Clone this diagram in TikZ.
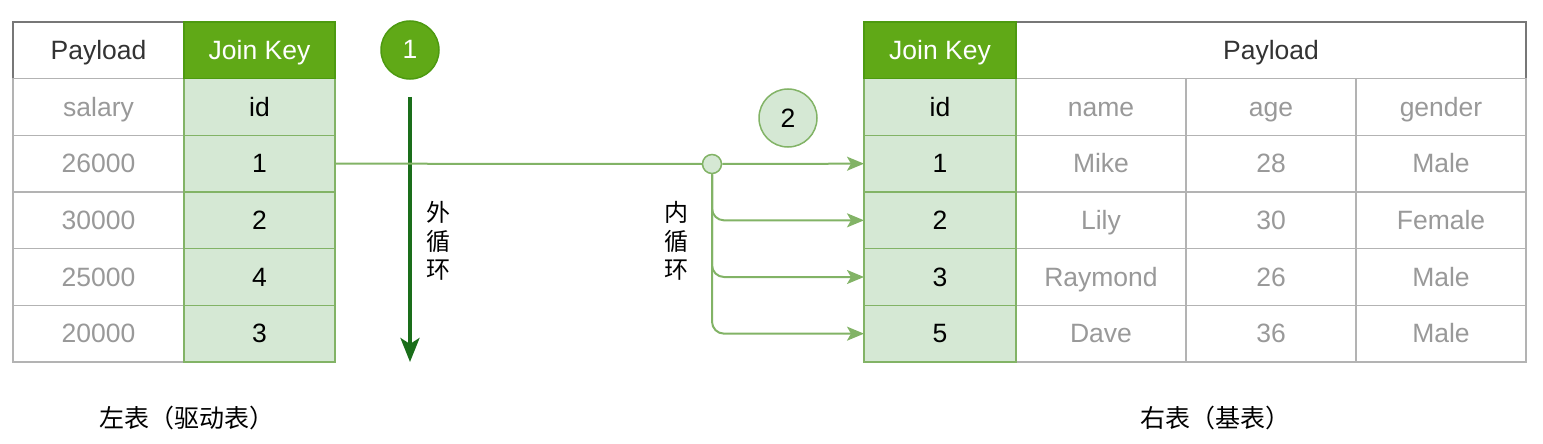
\documentclass[tikz,border=0pt]{standalone}
\usepackage{fontspec}
\setmainfont{Liberation Sans}
\newfontfamily\cjk{Noto Sans CJK SC}
\usetikzlibrary{arrows.meta}
\definecolor{hdrgreen}{HTML}{60A917}
\definecolor{hdrgreenb}{HTML}{4D9A10}
\definecolor{lgreen}{HTML}{D5E8D4}
\definecolor{lgreenb}{HTML}{82B366}
\definecolor{dgreen}{HTML}{1A6E1A}
\definecolor{grayb}{HTML}{B3B3B3}
\definecolor{hdrb}{HTML}{777777}
\definecolor{gtext}{HTML}{999999}
\definecolor{dtext}{HTML}{333333}
\begin{document}
\begin{tikzpicture}[x=1pt,y=-1pt,
  cell/.style={draw=grayb, line width=1.5pt, fill=white, anchor=north west, inner sep=0pt, outer sep=0pt, minimum height=56.67pt, text=gtext, text height=21pt, text depth=3pt, font=\fontsize{26.5}{30}\selectfont},
  keycell/.style={cell, draw=lgreenb, fill=lgreen, text=black},
  phdr/.style={cell, draw=hdrb, text=dtext},
  khdr/.style={cell, draw=hdrgreenb, fill=hdrgreen, text=white},
  link/.style={draw=lgreenb, line width=2pt, -{Stealth[length=17pt,width=14pt,inset=4pt]}},
  cjkl/.style={font=\cjk\fontsize{24}{28.5}\selectfont, align=center, text=black},
  numc/.style={circle, line width=1.5pt, minimum size=58pt, inner sep=0pt, text height=21pt, text depth=3pt, font=\fontsize{26.5}{30}\selectfont}
]
\useasboundingbox (0,0) rectangle (1543,444);
% ---------- left table ----------
\node[phdr, minimum width=171pt] (lp0) at (13,22) {Payload};
\node[cell, minimum width=171pt] (lp1) at (13,78.67) {salary};
\node[cell, minimum width=171pt] (lp2) at (13,135.33) {26000};
\node[cell, minimum width=171pt] (lp3) at (13,192) {30000};
\node[cell, minimum width=171pt] (lp4) at (13,248.67) {25000};
\node[cell, minimum width=171pt] (lp5) at (13,305.33) {20000};
\node[keycell, minimum width=151pt] (lk1) at (184,78.67) {id};
\node[keycell, minimum width=151pt] (lk2) at (184,135.33) {1};
\node[keycell, minimum width=151pt] (lk3) at (184,192) {2};
\node[keycell, minimum width=151pt] (lk4) at (184,248.67) {4};
\node[keycell, minimum width=151pt] (lk5) at (184,305.33) {3};
\node[khdr, minimum width=151pt] (lk0) at (184,22) {Join Key};
% ---------- right table ----------
\node[phdr, minimum width=510pt] (rp0) at (1016,22) {Payload};
\node[cell, minimum width=170pt] (rn1) at (1016,78.67) {name};
\node[cell, minimum width=170pt] (ra1) at (1186,78.67) {age};
\node[cell, minimum width=170pt] (rg1) at (1356,78.67) {gender};
\node[cell, minimum width=170pt] (rn2) at (1016,135.33) {Mike};
\node[cell, minimum width=170pt] (ra2) at (1186,135.33) {28};
\node[cell, minimum width=170pt] (rg2) at (1356,135.33) {Male};
\node[cell, minimum width=170pt] (rn3) at (1016,192) {Lily};
\node[cell, minimum width=170pt] (ra3) at (1186,192) {30};
\node[cell, minimum width=170pt] (rg3) at (1356,192) {Female};
\node[cell, minimum width=170pt] (rn4) at (1016,248.67) {Raymond};
\node[cell, minimum width=170pt] (ra4) at (1186,248.67) {26};
\node[cell, minimum width=170pt] (rg4) at (1356,248.67) {Male};
\node[cell, minimum width=170pt] (rn5) at (1016,305.33) {Dave};
\node[cell, minimum width=170pt] (ra5) at (1186,305.33) {36};
\node[cell, minimum width=170pt] (rg5) at (1356,305.33) {Male};
\node[keycell, minimum width=152pt] (rk1) at (864,78.67) {id};
\node[keycell, minimum width=152pt] (rk2) at (864,135.33) {1};
\node[keycell, minimum width=152pt] (rk3) at (864,192) {2};
\node[keycell, minimum width=152pt] (rk4) at (864,248.67) {3};
\node[keycell, minimum width=152pt] (rk5) at (864,305.33) {5};
\node[khdr, minimum width=152pt] (rk0) at (864,22) {Join Key};
% ---------- markers ----------
\node[numc, draw=hdrgreenb, fill=hdrgreen, text=white] (c1) at (410,50) {1};
\node[numc, draw=lgreenb, fill=lgreen, text=black] (c2) at (788,118) {2};
\coordinate (outs) at (410,97);
\coordinate (oute) at (410,362);
\draw[draw=dgreen, line width=3.5pt, -{Stealth[length=24pt,width=19pt,inset=6pt]}] (outs) -- (oute);
\node[cjkl] (outl) at (438,241) {外\\循\\环};
\node[cjkl] (inl) at (676,241) {内\\循\\环};
% ---------- links ----------
\node[circle, draw=lgreenb, line width=1.5pt, fill=lgreen, minimum size=19pt, inner sep=0pt] (j) at (712,164) {};
\draw[draw=lgreenb, line width=2pt] (lk2.east) -- (j.west);
\draw[link] (j.east) -- (rk2.west);
\draw[link, rounded corners=12pt] (j.south) |- (rk3.west);
\draw[link, rounded corners=12pt] (j.south) |- (rk4.west);
\draw[link, rounded corners=12pt] (j.south) |- (rk5.west);
% ---------- captions ----------
\node[font=\cjk\fontsize{25}{28}\selectfont, text=black] (capl) at (187,418) {左表（驱动表）};
\node[font=\cjk\fontsize{25}{28}\selectfont, text=black] (capr) at (1215,418) {右表（基表）};
\end{tikzpicture}
\end{document}
